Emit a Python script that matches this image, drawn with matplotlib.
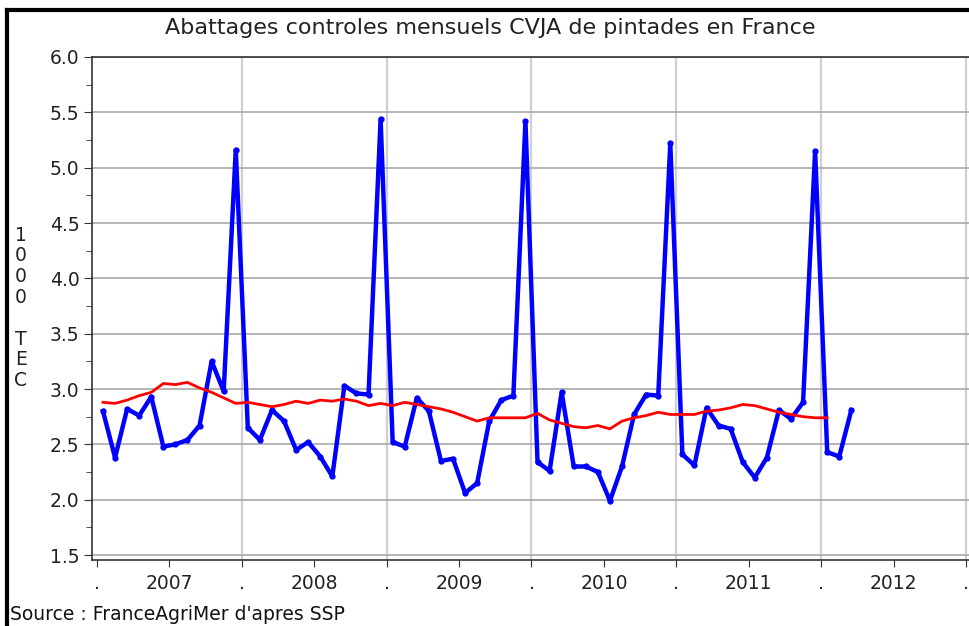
import matplotlib.pyplot as plt
from matplotlib.lines import Line2D
from matplotlib.ticker import MultipleLocator

# monthly slaughter, Jan 2007 .. Mar 2012 (1000 TEC)
monthly = [2.80, 2.38, 2.82, 2.76, 2.93, 2.48, 2.50, 2.54, 2.67, 3.25, 2.98, 5.16,
           2.65, 2.54, 2.81, 2.71, 2.45, 2.52, 2.39, 2.21, 3.03, 2.96, 2.95, 5.44,
           2.52, 2.48, 2.92, 2.80, 2.35, 2.37, 2.06, 2.15, 2.71, 2.90, 2.94, 5.42,
           2.34, 2.26, 2.97, 2.30, 2.30, 2.25, 1.99, 2.30, 2.77, 2.95, 2.94, 5.22,
           2.41, 2.31, 2.83, 2.67, 2.64, 2.34, 2.20, 2.38, 2.81, 2.73, 2.88, 5.15,
           2.43, 2.39, 2.81]
# 12-month moving average, Jan 2007 .. Jan 2012
moving_avg = [2.88, 2.87, 2.90, 2.94, 2.97, 3.05, 3.04, 3.06, 3.01, 2.97, 2.92, 2.87,
              2.88, 2.86, 2.84, 2.86, 2.89, 2.87, 2.90, 2.89, 2.91, 2.89, 2.85, 2.87,
              2.85, 2.88, 2.86, 2.84, 2.82, 2.79, 2.75, 2.71, 2.74, 2.74, 2.74, 2.74,
              2.78, 2.72, 2.69, 2.66, 2.65, 2.67, 2.64, 2.71, 2.74, 2.76, 2.79, 2.77,
              2.77, 2.77, 2.80, 2.81, 2.83, 2.86, 2.85, 2.82, 2.79, 2.77, 2.75, 2.74,
              2.74]
years = ['2007', '2008', '2009', '2010', '2011', '2012']

x_monthly = [i + 0.5 for i in range(len(monthly))]
x_avg = [i + 0.5 for i in range(len(moving_avg))]

fig = plt.figure(figsize=(9.7, 6.26), dpi=100)
ax = fig.add_axes([92 / 970, 1 - 560 / 626, 1 - 92 / 970, (560 - 57) / 626])

ax.set_xlim(-0.41, 72.33)
ax.set_ylim(1.455, 6.0)

ax.yaxis.set_minor_locator(MultipleLocator(0.25))
ax.set_yticks([1.5 + 0.5 * k for k in range(10)])
ax.set_yticklabels(['%.1f' % (1.5 + 0.5 * k) for k in range(10)])
ax.grid(axis='y', color='#a8a8a8', lw=1.2)
for k in range(1, 7):
    ax.axvline(12 * k, color='#d0d0d0', lw=1.6, zorder=0)

xt = list(range(0, 73, 6))
xl = []
for t in xt:
    xl.append('.' if t % 12 == 0 else years[t // 12])
ax.set_xticks(xt)
ax.set_xticklabels(xl)

ax.tick_params(axis='both', which='both', direction='out', colors='#333333',
               labelcolor='#222222', labelsize=13.5)
ax.tick_params(axis='y', which='major', length=6, pad=3)
ax.tick_params(axis='y', which='minor', length=4)
ax.tick_params(axis='x', length=5, pad=5)

for s in ['left', 'bottom', 'top']:
    ax.spines[s].set_color('#333333')
    ax.spines[s].set_linewidth(1.2)
ax.spines['right'].set_visible(False)

ax.plot(x_monthly, monthly, color='#0000ff', lw=3.2, marker='o', ms=3.5,
        solid_joinstyle='round', zorder=3)
ax.plot(x_avg, moving_avg, color='#ff0000', lw=2, zorder=4)

fig.text(0.505, 1 - 28 / 626, 'Abattages controles mensuels CVJA de pintades en France',
         ha='center', va='center', fontsize=16, color='#222222')
fig.text(21 / 970, 1 - 308 / 626, '1\n0\n0\n0\n\nT\nE\nC', ha='center', va='center',
         fontsize=13.5, color='#222222', linespacing=1.12)
fig.text(10 / 970, 1 - 614 / 626, "Source : FranceAgriMer d'apres SSP",
         ha='left', va='center', fontsize=13.5, color='#111111')

fig.add_artist(Line2D([7 / 970, 7 / 970], [0, 1 - 10 / 626], color='black', lw=3,
                      transform=fig.transFigure))
fig.add_artist(Line2D([7 / 970, 1], [1 - 10 / 626, 1 - 10 / 626], color='black', lw=3,
                      transform=fig.transFigure))

fig.savefig('out.png', dpi=100)
